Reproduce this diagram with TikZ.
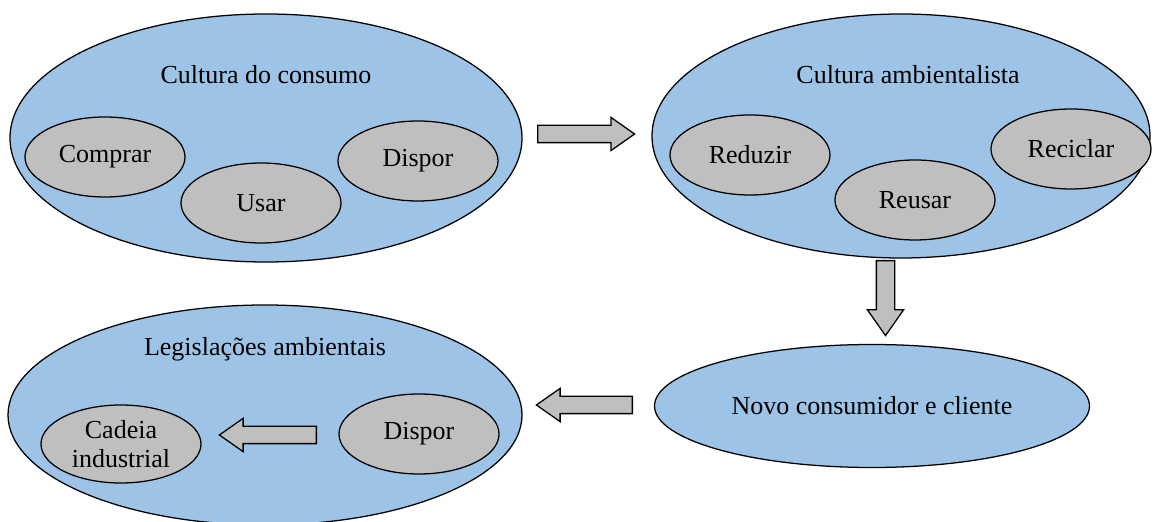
\documentclass[tikz,border=0pt]{standalone}
\usepackage{fontspec}
\setmainfont{Liberation Serif}
\usetikzlibrary{shapes.geometric,shapes.arrows}
\definecolor{sky}{RGB}{157,195,230}
\definecolor{stone}{RGB}{191,191,191}
\tikzset{
  big/.style={ellipse,draw=black,line width=0.9pt,fill=sky,inner sep=0pt},
  small/.style={ellipse,draw=black,line width=0.9pt,fill=stone,inner sep=0pt,
    minimum width=4cm,minimum height=2cm,align=center,font=\fontsize{18.5}{21}\selectfont},
  title/.style={font=\fontsize{18.5}{22}\selectfont},
  block/.style={single arrow,draw=black,line width=0.9pt,fill=stone,inner sep=0.2cm,
    single arrow head extend=0.2cm,single arrow tip angle=70,anchor=tail},
}
\begin{document}
\begin{tikzpicture}
  \useasboundingbox (0,0) rectangle (28.975,13.05);
  % upper left
  \node[big,minimum width=12.8cm,minimum height=6.2cm] (consumo) at (6.65,9.6) {};
  \node[title] (tconsumo) at (6.65,11.175) {Cultura do consumo};
  \node[small] (comprar) at (2.625,9.125) {Comprar};
  \node[small] (usar) at (6.525,7.975) {Usar};
  \node[small] (dispor) at (10.45,9.025) {Dispor};
  % upper right
  \node[big,minimum width=12.45cm,minimum height=6.1cm] (ambiente) at (22.525,9.65) {};
  \node[title] (tambiente) at (22.7,11.175) {Cultura ambientalista};
  \node[small] (reduzir) at (18.75,9.175) {Reduzir};
  \node[small] (reusar) at (22.875,8.05) {Reusar};
  \node[small] (reciclar) at (26.775,9.325) {Reciclar};
  % lower right
  \node[big,minimum width=10.875cm,minimum height=3.075cm,title] (novo) at (21.8,2.9) {Novo consumidor e cliente};
  % lower left
  \node[big,minimum width=12.85cm,minimum height=5.5cm] (legis) at (6.625,2.675) {};
  \node[title] (tlegis) at (6.625,4.325) {Legislações ambientais};
  \node[small] (dispor2) at (10.475,2.2) {Dispor};
  \node[small,minimum height=1.95cm] (cadeia) at (3.025,1.95) {Cadeia\\industrial};
  % block arrows
  \node[block,minimum height=2.425cm] (a1) at (13.425,9.7) {};
  \node[block,minimum height=1.875cm,inner sep=0.2125cm,single arrow head extend=0.225cm,shape border rotate=270] (a2) at (22.1375,6.55) {};
  \node[block,minimum height=2.4cm,shape border rotate=180] (a3) at (15.825,2.925) {};
  \node[block,minimum height=2.425cm,shape border rotate=180] (a4) at (7.925,2.175) {};
\end{tikzpicture}
\end{document}
